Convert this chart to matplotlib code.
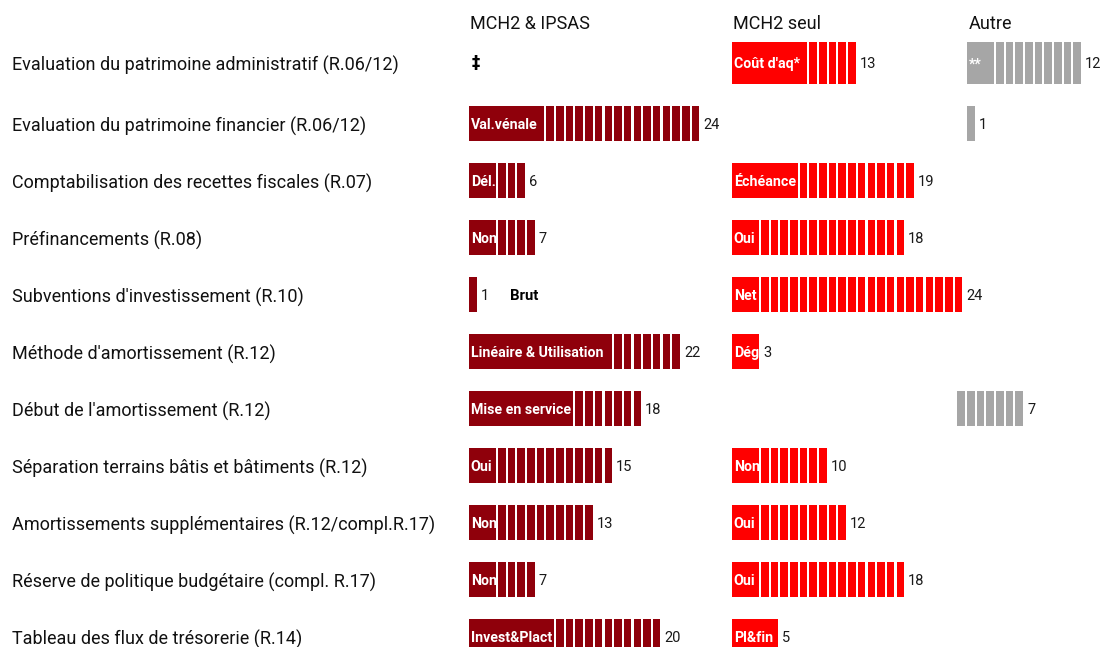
import matplotlib
matplotlib.use("Agg")
import matplotlib.pyplot as plt
from matplotlib import font_manager
from matplotlib.transforms import blended_transform_factory

# ---- data -------------------------------------------------------------
categories = [
    "Evaluation du patrimoine administratif (R.06/12)",
    "Evaluation du patrimoine financier (R.06/12)",
    "Comptabilisation des recettes fiscales (R.07)",
    "Préfinancements (R.08)",
    "Subventions d'investissement (R.10)",
    "Méthode d'amortissement (R.12)",
    "Début de l'amortissement (R.12)",
    "Séparation terrains bâtis et bâtiments (R.12)",
    "Amortissements supplémentaires (R.12/compl.R.17)",
    "Réserve de politique budgétaire (compl. R.17)",
    "Tableau des flux de trésorerie (R.14)",
]

group_names = ["MCH2 & IPSAS", "MCH2 seul", "Autre"]

ipsas_values = [0, 24, 6, 7, 1, 22, 18, 15, 13, 7, 20]
ipsas_labels = ["‡", "Val.vénale", "Dél.", "Non", "Brut",
                "Linéaire & Utilisation", "Mise en service", "Oui",
                "Non", "Non", "Invest&Plact"]
ipsas_label_units = [0, 8, 3, 3, 0, 15, 11, 3, 3, 3, 9]

seul_values = [13, 0, 19, 18, 24, 3, 0, 10, 12, 18, 5]
seul_labels = ["Coût d'aq*", "", "Échéance", "Oui", "Net", "Dég", "",
               "Non", "Oui", "Oui", "Pl&fin"]
seul_label_units = [8, 0, 7, 3, 3, 3, 0, 3, 3, 3, 5]

autre_values = [12, 1, 0, 0, 0, 0, 7, 0, 0, 0, 0]
autre_labels = ["**", "", "", "", "", "", "", "", "", "", ""]
autre_label_units = [3, 0, 0, 0, 0, 0, 0, 0, 0, 0, 0]

# ---- fonts --------------------------------------------------------------
available = {f.name for f in font_manager.fontManager.ttflist}
for cand in ["Liberation Sans Narrow", "DejaVu Sans Condensed", "Roboto", "DejaVu Sans"]:
    if cand in available:
        FONT = cand
        break
plt.rcParams["font.family"] = [FONT, "DejaVu Sans"]

# ---- layout -------------------------------------------------------------
W, H = 1100, 647
DPI = 100
UNIT_PX = 9.68          # width of one unit segment in pixels
X0_PX = 469             # left edge of the first group
ROW_PX = 57             # vertical distance between rows
ROW1_PX = 123.5         # centre of the second row
GAP = 0.22              # white gap between segments (in units)

colors = ["#8f000b", "#ff0000", "#a6a6a6"]
group_start_px = [469, 732, 967]
group_starts = [(p - X0_PX) / UNIT_PX for p in group_start_px]

fig = plt.figure(figsize=(W / DPI, H / DPI), dpi=DPI)
ax = fig.add_axes([0, 0, 1, 1])
ax.set_xlim(-X0_PX / UNIT_PX, (W - X0_PX) / UNIT_PX)
ax.set_ylim((H - ROW1_PX) / ROW_PX + 1, (0 - ROW1_PX) / ROW_PX + 1)
ax.axis("off")

n = len(categories)
row_y = list(range(n))
row_h = [0.614] * n
# the first row sits a little higher and is drawn slightly taller
row_y[0] = -0.061
row_h[0] = 0.737

# row-specific horizontal shift (in units) for the "Autre" group
autre_shift = [0] * n
autre_shift[6] = -1

groups = [
    (ipsas_values, ipsas_labels, ipsas_label_units, [0] * n),
    (seul_values, seul_labels, seul_label_units, [0] * n),
    (autre_values, autre_labels, autre_label_units, autre_shift),
]

fs_num = 10.5
fs_in = 10.2

for g, (vals, labs, spans, shift) in enumerate(groups):
    x0 = group_starts[g]
    col = colors[g]
    for i in range(n):
        v = vals[i]
        y = row_y[i]
        h = row_h[i]
        start = x0 + shift[i]
        if v == 0:
            if labs[i]:
                ax.text(start + 0.25, y, labs[i], ha="left", va="center",
                        fontsize=12, fontweight="bold", color="black",
                        family=["DejaVu Sans"])
            continue
        k = spans[i]
        if k > 0:
            ax.barh(y, k - GAP, left=start, height=h, color=col, linewidth=0)
            ax.text(start + 0.18, y + 0.02, labs[i], ha="left", va="center",
                    fontsize=fs_in, fontweight="bold", color="white")
        for j in range(k, v):
            ax.barh(y, 1 - GAP, left=start + j, height=h, color=col, linewidth=0)
        end = start + v
        ax.text(end + 0.2, y + 0.02, str(v), ha="left", va="center",
                fontsize=fs_num, color="#1a1a1a")
        if k == 0 and labs[i]:
            ax.text(start + 4.2, y + 0.02, labs[i], ha="left", va="center",
                    fontsize=fs_in + 0.5, fontweight="bold", color="black")

# group headings
for g, name in enumerate(group_names):
    ax.text(group_starts[g] + 0.15, (24 - ROW1_PX) / ROW_PX + 1, name,
            ha="left", va="center", fontsize=13, color="#111111")

# category labels on the left
tr = blended_transform_factory(fig.transFigure, ax.transData)
for i, cat in enumerate(categories):
    ax.text(12 / W, row_y[i] + 0.045, cat, transform=tr, ha="left",
            va="center", fontsize=13, color="#111111")

fig.savefig("out.png", dpi=DPI)
